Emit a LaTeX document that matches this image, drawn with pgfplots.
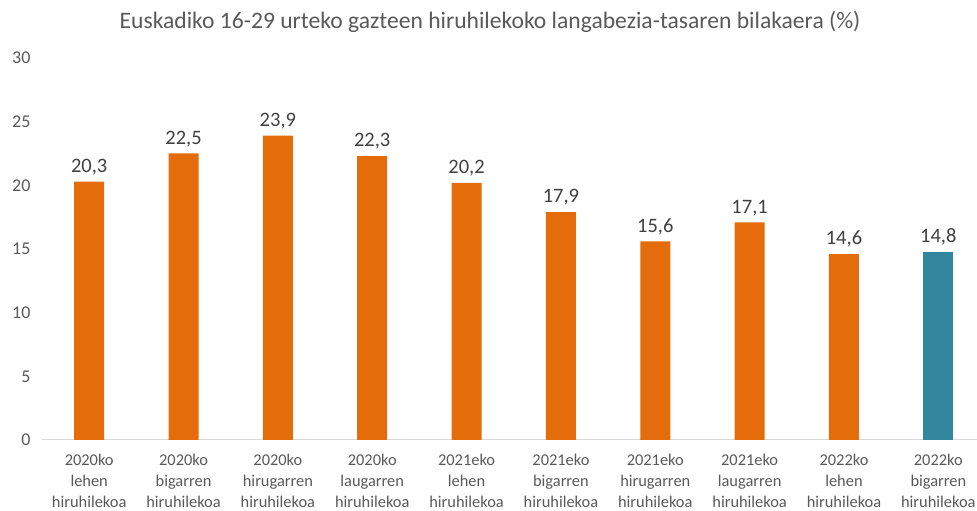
\documentclass[border=0pt]{standalone}
\usepackage{pgfplots}
\pgfplotsset{compat=1.18}
\usepackage{fontspec}
\setmainfont{Carlito}
\definecolor{barorange}{HTML}{E46C0A}
\definecolor{barteal}{HTML}{31859C}
\definecolor{txtgray}{HTML}{595959}
\definecolor{lblgray}{HTML}{404040}
\definecolor{axgray}{HTML}{D9D9D9}
\begin{document}
\begin{tikzpicture}[x=1pt,y=1pt]
\useasboundingbox (0,0) rectangle (977,511);
\node[font=\fontsize{23.6}{26}\selectfont, text=txtgray] at (490,489) {Euskadiko 16-29 urteko gazteen hiruhilekoko langabezia-tasaren bilakaera (\%)};
\begin{axis}[
  at={(42pt,71pt)}, anchor=south west,
  scale only axis, width=935pt, height=382pt,
  xmin=-0.5, xmax=9.41, ymin=0, ymax=30,
  ytick={0,5,...,30},
  xtick={0,...,9},
  xticklabels={{2020ko\\lehen\\hiruhilekoa},{2020ko\\bigarren\\hiruhilekoa},{2020ko\\hirugarren\\hiruhilekoa},{2020ko\\laugarren\\hiruhilekoa},{2021eko\\lehen\\hiruhilekoa},{2021eko\\bigarren\\hiruhilekoa},{2021eko\\hirugarren\\hiruhilekoa},{2021eko\\laugarren\\hiruhilekoa},{2022ko\\lehen\\hiruhilekoa},{2022ko\\bigarren\\hiruhilekoa}},
  xticklabel style={align=center, font=\fontsize{16.4}{21}\selectfont, text=txtgray, yshift=-11pt},
  yticklabel style={font=\fontsize{18}{20}\selectfont, text=txtgray, xshift=-8pt},
  /pgf/number format/assume math mode=true,
  axis x line*=bottom, axis y line*=left,
  y axis line style={draw=none},
  x axis line style={axgray, line width=1pt, -},
  major tick length=0pt,
  tick style={draw=none},
  ybar, bar width=30pt,
  clip=false,
  nodes near coords,
  nodes near coords style={font=\fontsize{20.5}{22}\selectfont, text=lblgray, yshift=3pt, /pgf/number format/.cd, use comma, fixed, fixed zerofill, precision=1, assume math mode=true},
]
\addplot[fill=barorange, draw=none, bar shift=0pt] coordinates {(0,20.3) (1,22.5) (2,23.9) (3,22.3) (4,20.2) (5,17.9) (6,15.6) (7,17.1) (8,14.6)};
\addplot[fill=barteal, draw=none, bar shift=0pt] coordinates {(9,14.8)};
\end{axis}
\end{tikzpicture}
\end{document}
